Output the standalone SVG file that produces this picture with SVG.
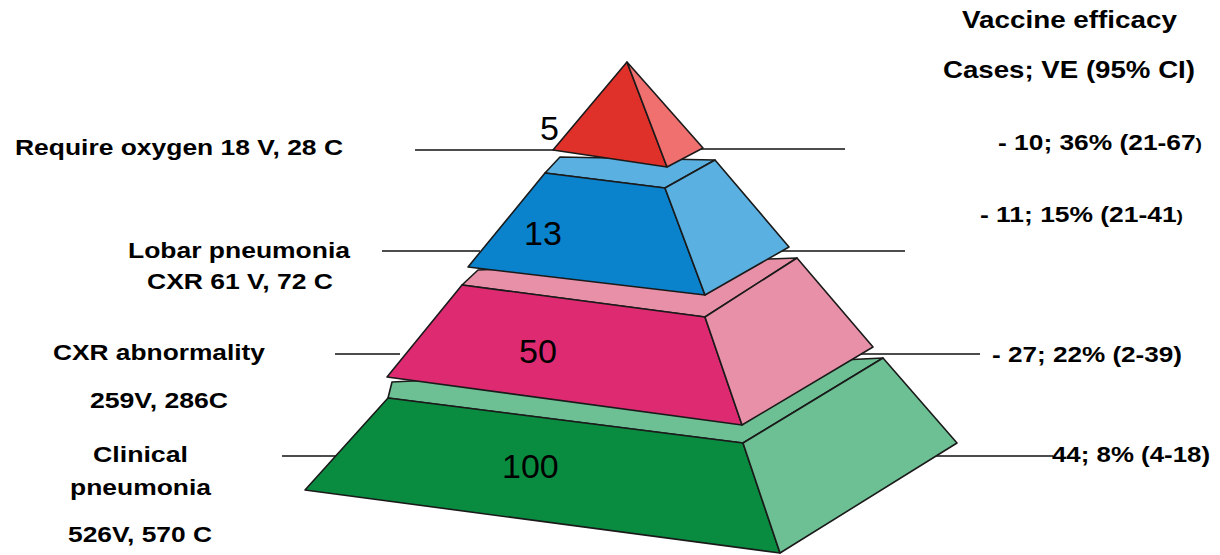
<svg xmlns="http://www.w3.org/2000/svg" width="1220" height="555" viewBox="0 0 1220 555">
<style>
.edge{stroke:#1a1a1a;stroke-width:1.6;stroke-linejoin:round}
.conn{stroke:#111;stroke-width:1.6;fill:none}
.lbl{font-family:"Liberation Sans",Arial,sans-serif;font-weight:bold;font-size:22px;fill:#000}
.hdr{font-family:"Liberation Sans",Arial,sans-serif;font-weight:bold;font-size:24px;fill:#000}
.num{font-family:"Liberation Sans",Arial,sans-serif;font-size:34px;fill:#000}
</style>
<rect width="1220" height="555" fill="#fff"/>
<g id="connectors">
<line class="conn" x1="415" y1="150" x2="565" y2="150"/>
<line class="conn" x1="690" y1="149" x2="845" y2="149"/>
<line class="conn" x1="382" y1="251" x2="480" y2="251"/>
<line class="conn" x1="770" y1="251" x2="905" y2="251"/>
<line class="conn" x1="335" y1="354" x2="400" y2="354"/>
<line class="conn" x1="850" y1="354" x2="980" y2="354"/>
<line class="conn" x1="282" y1="456" x2="340" y2="456"/>
<line class="conn" x1="930" y1="456" x2="1053" y2="456"/>
</g>
<g id="layer-green">
<polygon class="edge" fill="#6cc094" points="388,398 392,382 883,358 743,443"/>
<polygon class="edge" fill="#0a8c40" points="388,398 743,443 780,553 305,490"/>
<polygon class="edge" fill="#6cc094" points="743,443 883,358 957,443 780,553"/>
<text class="num" x="502" y="478">100</text>
</g>
<g id="layer-pink">
<polygon class="edge" fill="#e890a8" points="462,285 478,270 797,258 705,317"/>
<polygon class="edge" fill="#de2a70" points="462,285 705,317 742,425 387,377"/>
<polygon class="edge" fill="#e890a8" points="705,317 797,258 873,347 742,425"/>
<text class="num" x="519" y="363">50</text>
</g>
<g id="layer-blue">
<polygon class="edge" fill="#5ab0e0" points="545,173 560,157 715,160 665,188"/>
<polygon class="edge" fill="#0a82cc" points="545,173 665,188 705,295 468,267"/>
<polygon class="edge" fill="#5ab0e0" points="665,188 715,160 789,247 705,295"/>
<text class="num" x="524" y="245">13</text>
</g>
<g id="layer-red">
<polygon class="edge" fill="#e0302a" points="627,62 553,150 667,167"/>
<polygon class="edge" fill="#f07070" points="627,62 667,167 703,148"/>
<text class="num" x="540" y="140">5</text>
</g>
<g id="labels-left">
<text class="lbl" x="15" y="155" textLength="328" lengthAdjust="spacingAndGlyphs">Require oxygen 18 V, 28 C</text>
<text class="lbl" x="128" y="258" textLength="222" lengthAdjust="spacingAndGlyphs">Lobar pneumonia</text>
<text class="lbl" x="147" y="289" textLength="186" lengthAdjust="spacingAndGlyphs">CXR 61 V, 72 C</text>
<text class="lbl" x="53" y="360" textLength="212" lengthAdjust="spacingAndGlyphs">CXR abnormality</text>
<text class="lbl" x="90" y="408" textLength="138" lengthAdjust="spacingAndGlyphs">259V, 286C</text>
<text class="lbl" x="93" y="462" textLength="95" lengthAdjust="spacingAndGlyphs">Clinical</text>
<text class="lbl" x="70" y="495" textLength="141" lengthAdjust="spacingAndGlyphs">pneumonia</text>
<text class="lbl" x="68" y="542" textLength="144" lengthAdjust="spacingAndGlyphs">526V, 570 C</text>
</g>
<g id="labels-right">
<text class="hdr" x="962" y="28" textLength="215" lengthAdjust="spacingAndGlyphs">Vaccine efficacy</text>
<text class="hdr" x="943" y="78" textLength="252" lengthAdjust="spacingAndGlyphs">Cases; VE (95% CI)</text>
<text class="lbl" x="998" y="150" textLength="204" lengthAdjust="spacingAndGlyphs">- 10; 36% (21-67<tspan font-size="16">)</tspan></text>
<text class="lbl" x="980" y="222" textLength="203" lengthAdjust="spacingAndGlyphs">- 11; 15% (21-41<tspan font-size="16">)</tspan></text>
<text class="lbl" x="992" y="362" textLength="190" lengthAdjust="spacingAndGlyphs">- 27; 22% (2-39)</text>
<text class="lbl" x="1052" y="462" textLength="158" lengthAdjust="spacingAndGlyphs">44; 8% (4-18)</text>
</g>
</svg>
